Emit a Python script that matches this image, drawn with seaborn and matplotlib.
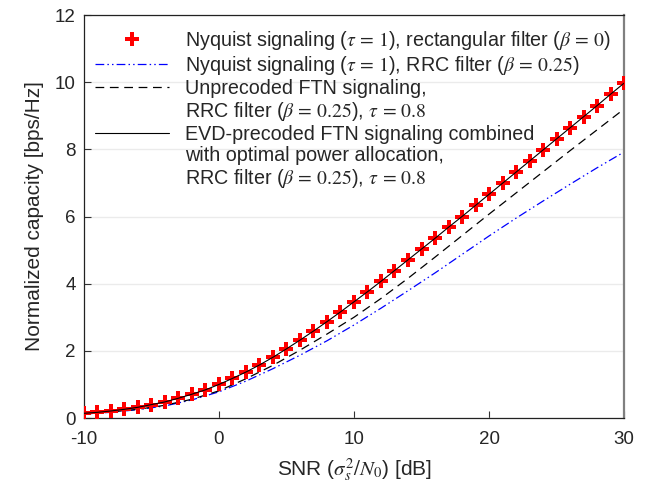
import pandas as pd
import seaborn as sns
import matplotlib.pyplot as plt
from matplotlib.lines import Line2D

# SNR grids (dB)
snr_fine = list(range(-10, 31))
snr_coarse = list(range(-10, 31, 2))

# Nyquist signaling, rectangular filter (red markers, every 1 dB)
nyq_rect = [0.14, 0.17, 0.21, 0.26, 0.32, 0.40, 0.48, 0.59, 0.71, 0.84,
            1.00, 1.18, 1.37, 1.58, 1.81, 2.06, 2.32, 2.59, 2.87, 3.16,
            3.46, 3.76, 4.07, 4.39, 4.71, 5.03, 5.35, 5.68, 6.00, 6.33,
            6.66, 6.99, 7.32, 7.65, 7.98, 8.31, 8.64, 8.97, 9.30, 9.64, 9.97]

# EVD-precoded FTN with optimal power allocation (solid black)
evd_ftn = [0.14, 0.17, 0.21, 0.26, 0.32, 0.40, 0.48, 0.59, 0.71, 0.84,
           1.00, 1.18, 1.37, 1.58, 1.81, 2.06, 2.32, 2.59, 2.87, 3.16,
           3.46, 3.76, 4.07, 4.39, 4.71, 5.03, 5.35, 5.68, 6.00, 6.33,
           6.66, 6.99, 7.32, 7.65, 7.98, 8.31, 8.64, 8.97, 9.30, 9.64, 9.97]

# Nyquist signaling, RRC filter beta=0.25 (blue dash-dot-dot, every 2 dB)
nyq_rrc = [0.12, 0.17, 0.25, 0.36, 0.54, 0.78, 1.10, 1.47, 1.87, 2.30, 2.77,
           3.27, 3.79, 4.32, 4.87, 5.42, 5.95, 6.46, 6.96, 7.45, 7.92]

# Unprecoded FTN, RRC beta=0.25, tau=0.8 (black dashed, every 2 dB)
unprec_ftn = [0.12, 0.18, 0.26, 0.38, 0.56, 0.81, 1.17, 1.57, 2.02, 2.50, 3.00,
              3.56, 4.16, 4.79, 5.43, 6.07, 6.70, 7.33, 7.96, 8.58, 9.20]

# legend rows (continuation rows get an empty handle)
legend_rows = [
    "Nyquist signaling ($\\tau\\,=\\,1$), rectangular filter ($\\beta\\,=\\,0$)",
    "Nyquist signaling ($\\tau\\,=\\,1$), RRC filter ($\\beta\\,=\\,0.25$)",
    "Unprecoded FTN signaling,",
    "RRC filter ($\\beta\\,=\\,0.25$), $\\tau\\,=\\,0.8$",
    "EVD-precoded FTN signaling combined",
    "with optimal power allocation,",
    "RRC filter ($\\beta\\,=\\,0.25$), $\\tau\\,=\\,0.8$",
]

df_fine = pd.DataFrame({"snr": snr_fine, "rect": nyq_rect, "evd": evd_ftn})
df_coarse = pd.DataFrame({"snr": snr_coarse, "rrc": nyq_rrc, "ftn": unprec_ftn})

sns.set_theme(style="whitegrid")
plt.rcParams["font.family"] = ["Liberation Sans", "DejaVu Sans"]
plt.rcParams["mathtext.fontset"] = "stix"
plt.rcParams["axes.unicode_minus"] = False

fig, ax = plt.subplots(figsize=(6.49, 4.94), dpi=100)
fig.subplots_adjust(left=0.1294, right=0.9615, bottom=0.1538, top=0.9696)

sns.scatterplot(data=df_fine, x="snr", y="rect", marker="P", s=95, color="#ff0000",
                linewidth=0, ax=ax, zorder=3)
sns.lineplot(data=df_coarse, x="snr", y="rrc", color="#0000ff", linewidth=0.9,
             linestyle=(0, (7, 2.5, 1.2, 2.5, 1.2, 2.5)), ax=ax)
sns.lineplot(data=df_coarse, x="snr", y="ftn", color="black", linewidth=0.9,
             linestyle=(0, (7, 4.5)), ax=ax)
sns.lineplot(data=df_fine, x="snr", y="evd", color="black", linewidth=0.8,
             ax=ax, zorder=4)

ax.set_xlim(-10, 30)
ax.set_ylim(0, 12)
ax.set_xticks([-10, 0, 10, 20, 30])
ax.set_yticks([0, 2, 4, 6, 8, 10, 12])
ax.grid(axis="x", visible=False)
ax.grid(axis="y", color="#ebebeb", linewidth=1)
ax.tick_params(direction="in", length=5, width=0.8, color="#333333",
               labelsize=13.5, pad=6, bottom=True, left=True)
ax.tick_params(axis="x", pad=9)
for side in ["left", "bottom", "top"]:
    ax.spines[side].set_color("#222222")
    ax.spines[side].set_linewidth(0.9)
ax.spines["right"].set_color("#808080")
ax.spines["right"].set_linewidth(1.6)

ax.set_xlabel("SNR ($\\sigma_s^2/N_0$) [dB]", fontsize=15, labelpad=6)
ax.set_ylabel("Normalized capacity [bps/Hz]", fontsize=15, labelpad=8)

blank = Line2D([], [], linestyle="none")
handles = [
    Line2D([], [], linestyle="none", marker="P", markersize=9.5, color="#ff0000",
           markeredgewidth=0),
    Line2D([], [], color="#0000ff", linewidth=0.9,
           linestyle=(0, (7, 2.5, 1.2, 2.5, 1.2, 2.5))),
    Line2D([], [], color="black", linewidth=0.9, linestyle=(0, (7, 4.5))),
    blank,
    Line2D([], [], color="black", linewidth=0.8),
    blank,
    blank,
]
ax.legend(handles, legend_rows, loc="upper left", bbox_to_anchor=(-0.006, 1.0),
          frameon=False, fontsize=14.2, handlelength=3.75, handletextpad=0.85,
          labelspacing=0.1, borderaxespad=0.4, borderpad=0.3)

plt.savefig("out.png", dpi=100)
